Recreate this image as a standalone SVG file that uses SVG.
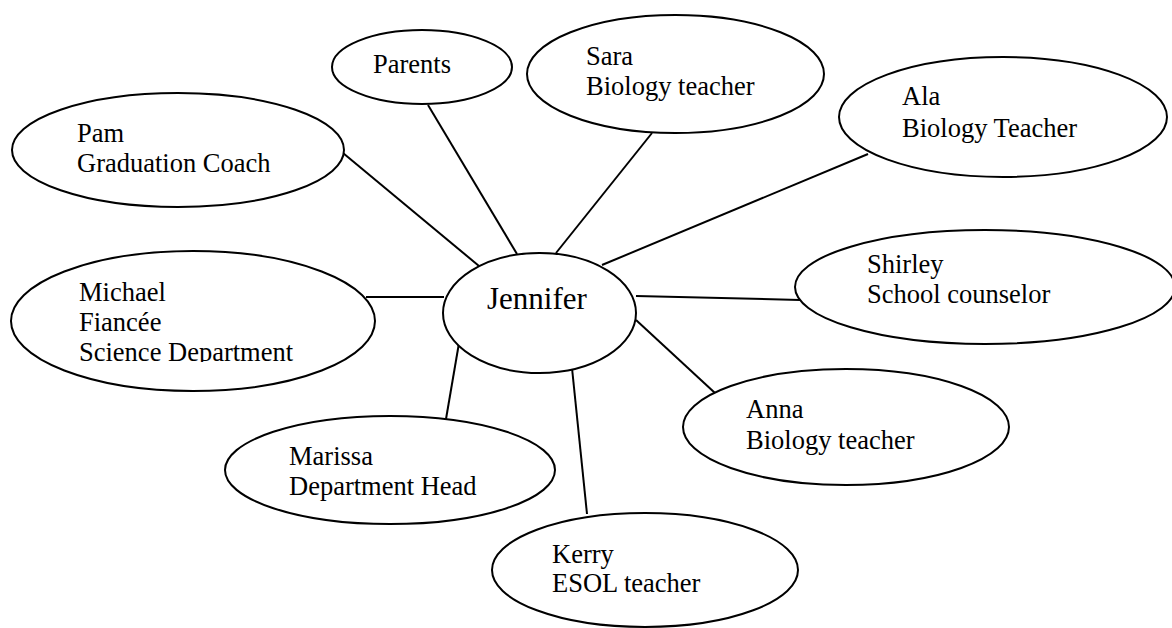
<svg xmlns="http://www.w3.org/2000/svg" width="1172" height="628" viewBox="0 0 1172 628">
<style>
.n{fill:#fff;stroke:#000;stroke-width:2}
.t{font-family:"Liberation Serif","Times New Roman",serif;font-size:26.5px;fill:#000}
.c line{stroke:#000;stroke-width:2}
</style>
<defs>
<clipPath id="mclip"><rect x="0" y="0" width="1172" height="362"/></clipPath>
</defs>
<rect width="1172" height="628" fill="#fff"/>
<g class="c" id="connectors">
<line x1="428" y1="105" x2="517" y2="254"/>
<line x1="652" y1="133" x2="556" y2="253"/>
<line x1="868" y1="154" x2="602" y2="265"/>
<line x1="343" y1="153" x2="479" y2="266"/>
<line x1="366" y1="297" x2="444" y2="297"/>
<line x1="636" y1="296" x2="800" y2="300"/>
<line x1="636" y1="320" x2="715" y2="393"/>
<line x1="459" y1="343" x2="446" y2="419"/>
<line x1="572" y1="368" x2="587" y2="514"/>
</g>
<g id="parents"><ellipse class="n" cx="422" cy="67" rx="90" ry="37"/><text class="t" x="373" y="73">Parents</text></g>
<g id="sara"><ellipse class="n" cx="675.5" cy="74" rx="148.5" ry="59"/><text class="t" x="586" y="65">Sara</text><text class="t" x="586" y="95">Biology teacher</text></g>
<g id="ala"><ellipse class="n" cx="1003" cy="117" rx="164" ry="60"/><text class="t" x="902" y="105">Ala</text><text class="t" x="902" y="137">Biology Teacher</text></g>
<g id="pam"><ellipse class="n" cx="178" cy="150" rx="166" ry="57"/><text class="t" x="77" y="142">Pam</text><text class="t" x="77" y="172">Graduation Coach</text></g>
<g id="jennifer"><ellipse class="n" cx="539.5" cy="313" rx="96.5" ry="60"/><text class="t" x="487" y="309" style="font-size:31px">Jennifer</text></g>
<g id="michael"><ellipse class="n" cx="193" cy="321" rx="182" ry="70"/><g clip-path="url(#mclip)"><text class="t" x="79" y="301">Michael</text><text class="t" x="79" y="331">Fiancée</text><text class="t" x="79" y="361">Science Department</text></g></g>
<g id="shirley"><ellipse class="n" cx="985" cy="287" rx="190" ry="57"/><text class="t" x="867" y="273">Shirley</text><text class="t" x="867" y="303">School counselor</text></g>
<g id="anna"><ellipse class="n" cx="846" cy="427" rx="163" ry="58"/><text class="t" x="746" y="418">Anna</text><text class="t" x="746" y="449">Biology teacher</text></g>
<g id="marissa"><ellipse class="n" cx="390" cy="470" rx="165" ry="54"/><text class="t" x="289" y="465">Marissa</text><text class="t" x="289" y="495">Department Head</text></g>
<g id="kerry"><ellipse class="n" cx="645" cy="570" rx="153" ry="57"/><text class="t" x="552" y="563">Kerry</text><text class="t" x="552" y="592">ESOL teacher</text></g>
</svg>
